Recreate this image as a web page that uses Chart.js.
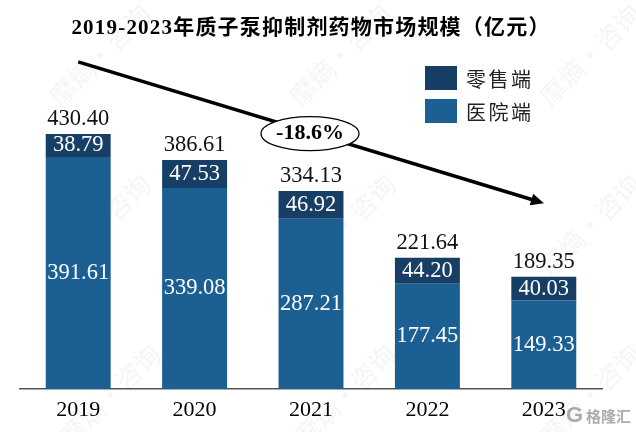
<!DOCTYPE html>
<html lang="zh">
<head>
<meta charset="utf-8">
<title>质子泵抑制剂药物市场规模</title>
<script src="https://cdn.jsdelivr.net/npm/chart.js@4"></script>
<style>
  html, body { margin: 0; padding: 0; background: #fff; }
  #wrap { position: relative; width: 636px; height: 432px; overflow: hidden; }
  #legend-container { position: absolute; left: 425px; top: 66px; }
  #legend-container ul { list-style: none; margin: 0; padding: 0; }
  #legend-container li { display: flex; align-items: center; height: 24px; margin-bottom: 9px; }
  #legend-container span { display: inline-block; width: 32px; height: 24px; margin-right: 9px; }
  #legend-container p { margin: 0; color: #222; font: 20px "Liberation Serif", "Noto Sans CJK SC", serif; letter-spacing: 2.5px; }
</style>
</head>
<body>
<div id="wrap">
  <canvas id="myChart" width="636" height="432"></canvas>
  <div id="legend-container"></div>
</div>
<script>
const years = ['2019', '2020', '2021', '2022', '2023'];
const hospital = [391.61, 339.08, 287.21, 177.45, 149.33];
const retail = [38.79, 47.53, 46.92, 44.20, 40.03];
const totals = ['430.40', '386.61', '334.13', '221.64', '189.35'];
// trend arrow: position along the category axis (0 = 2019) and value on the y axis
const trendIndex = [0, 3.96];
const trendValues = [552, 316];
const trendLabel = '-18.6%';
const trendLabelValue = 431;
const titleText = '2019-2023年质子泵抑制剂药物市场规模（亿元）';

const serif = '"Liberation Serif", "Noto Sans CJK SC", serif';
const ctx = document.querySelector('#myChart').getContext('2d');

// faint watermark behind the bars
const watermarkPlugin = {
  id: 'watermark',
  beforeDraw(chart) {
    const c = chart.ctx;
    c.save();
    c.font = '26px "Noto Sans CJK SC"';
    c.fillStyle = 'rgba(120, 120, 120, 0.07)';
    c.textAlign = 'center';
    c.textBaseline = 'middle';
    [[100, 55], [340, 55], [590, 55], [100, 225], [345, 225], [590, 225], [110, 395], [345, 395], [590, 395]].forEach(p => {
      c.save();
      c.translate(p[0], p[1]);
      c.rotate(-Math.PI / 4);
      c.fillText('摩熵·咨询', 0, 0);
      c.restore();
    });
    c.restore();
  },
  afterDraw(chart) {
    const c = chart.ctx;
    c.save();
    c.fillStyle = 'rgba(150, 150, 150, 0.8)';
    c.textAlign = 'right';
    c.textBaseline = 'middle';
    c.font = 'bold 15px "Noto Sans CJK SC"';
    c.fillText('格隆汇', 631, 416);
    c.font = 'bold 22px "Liberation Sans"';
    c.fillText('G', 583, 416);
    c.restore();
  }
};

// numbers on and above the bars, the trend arrow and its oval
const labelPlugin = {
  id: 'barLabels',
  afterDatasetsDraw(chart) {
    const c = chart.ctx;
    const metaH = chart.getDatasetMeta(0);
    const metaR = chart.getDatasetMeta(1);
    const xs = chart.scales.x;
    const ys = chart.scales.y;
    c.save();
    c.font = '22.5px ' + serif;
    c.textAlign = 'center';
    c.textBaseline = 'middle';
    years.forEach((y, i) => {
      const h = metaH.data[i];
      const r = metaR.data[i];
      c.fillStyle = '#fff';
      c.fillText(hospital[i].toFixed(2), h.x, (h.y + h.base) / 2);
      c.fillText(retail[i].toFixed(2), r.x, (r.y + r.base) / 2);
      c.fillStyle = '#111';
      c.fillText(totals[i], r.x, r.y - 15);
    });

    const x0 = xs.getPixelForValue(trendIndex[0]);
    const y0 = ys.getPixelForValue(trendValues[0]);
    const x1 = xs.getPixelForValue(trendIndex[1]);
    const y1 = ys.getPixelForValue(trendValues[1]);
    c.beginPath();
    c.moveTo(x0, y0);
    c.lineTo(x1, y1);
    c.lineWidth = 3.5;
    c.strokeStyle = '#000';
    c.stroke();
    c.save();
    c.translate(x1, y1);
    c.rotate(Math.atan2(y1 - y0, x1 - x0));
    c.beginPath();
    c.moveTo(5, 0);
    c.lineTo(-8, -6);
    c.lineTo(-8, 6);
    c.closePath();
    c.fillStyle = '#000';
    c.fill();
    c.restore();

    const ex = xs.getPixelForValue(2) - 1;
    const ey = ys.getPixelForValue(trendLabelValue);
    c.beginPath();
    c.ellipse(ex, ey, 49, 17, 0, 0, Math.PI * 2);
    c.fillStyle = '#fff';
    c.fill();
    c.lineWidth = 1.2;
    c.strokeStyle = '#000';
    c.stroke();
    c.font = 'bold 22px ' + serif;
    c.fillStyle = '#000';
    c.fillText(trendLabel, ex, ey);
    c.restore();
  }
};

const htmlLegendPlugin = {
  id: 'htmlLegend',
  afterUpdate(chart) {
    const box = document.getElementById('legend-container');
    box.innerHTML = '';
    const ul = document.createElement('ul');
    const items = chart.options.plugins.legend.labels.generateLabels(chart);
    items.reverse().forEach(item => {
      const li = document.createElement('li');
      const swatch = document.createElement('span');
      swatch.style.background = item.fillStyle;
      const text = document.createElement('p');
      text.textContent = item.text;
      li.appendChild(swatch);
      li.appendChild(text);
      ul.appendChild(li);
    });
    box.appendChild(ul);
  }
};

// title letter spacing is not a Chart.js option, so wrap the title's draw
const titleSpacingPlugin = {
  id: 'titleSpacing',
  beforeDraw(chart) {
    const block = chart.titleBlock;
    if (block.spaced) return;
    const draw = block.draw;
    block.draw = function() {
      chart.ctx.letterSpacing = '1.2px';
      draw.call(block);
      chart.ctx.letterSpacing = '0px';
    };
    block.spaced = true;
  }
};

new Chart(ctx, {
  type: 'bar',
  data: {
    labels: years,
    datasets: [
      {
        label: '医院端',
        data: hospital,
        backgroundColor: '#1B5F93',
        barPercentage: 0.558,
        categoryPercentage: 1
      },
      {
        label: '零售端',
        data: retail,
        backgroundColor: '#173F66',
        barPercentage: 0.558,
        categoryPercentage: 1
      }
    ]
  },
  options: {
    responsive: false,
    animation: false,
    layout: { padding: { left: 20, right: 34, top: 0, bottom: 0 } },
    plugins: {
      legend: { display: false },
      tooltip: { enabled: false },
      title: {
        display: true,
        text: titleText,
        color: '#000',
        font: { family: serif, size: 21, weight: 'bold', lineHeight: 1.2 },
        padding: { top: 16, bottom: 16 }
      }
    },
    scales: {
      x: {
        stacked: true,
        grid: { display: false, drawTicks: false },
        border: { color: '#555', width: 1.5 },
        ticks: { color: '#000', font: { family: serif, size: 22 }, padding: 8 },
        afterFit(scale) { scale.height = 43; }
      },
      y: {
        stacked: true,
        display: false,
        min: 0,
        max: 560
      }
    }
  },
  plugins: [watermarkPlugin, titleSpacingPlugin, labelPlugin, htmlLegendPlugin]
});
</script>
</body>
</html>
